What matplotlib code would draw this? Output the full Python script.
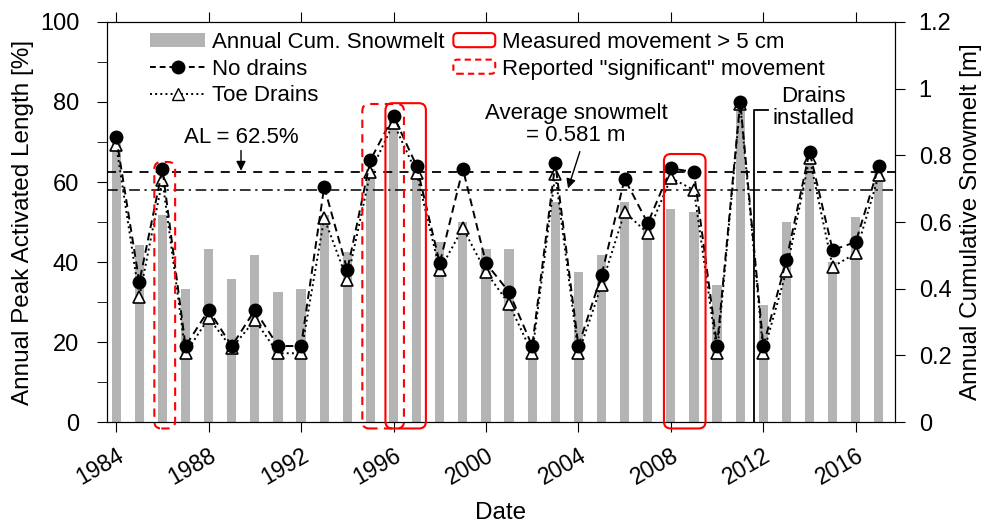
import matplotlib
matplotlib.use("Agg")
import matplotlib.pyplot as plt
import matplotlib.transforms as mtransforms
from matplotlib.patches import FancyBboxPatch, Patch, Rectangle
from matplotlib.lines import Line2D
from matplotlib.legend_handler import HandlerPatch

plt.rcParams['font.family'] = ['Liberation Sans', 'DejaVu Sans']

years = list(range(1984, 2018))
snowmelt = [0.84, 0.53, 0.62, 0.40, 0.52, 0.43, 0.50, 0.39, 0.40, 0.62,
            0.51, 0.76, 0.90, 0.75, 0.54, 0.60, 0.52, 0.52, 0.22, 0.66,
            0.45, 0.50, 0.66, 0.59, 0.64, 0.63, 0.41, 0.96, 0.35, 0.60,
            0.80, 0.48, 0.615, 0.75]
no_drains = [71.3, 35, 63.2, 19, 28, 19, 28, 19, 19, 58.8,
             38, 65.5, 76.5, 64, 39.7, 63.3, 39.7, 32.5, 19, 64.7,
             19, 36.7, 60.8, 49.7, 63.4, 62.5, 19, 80.1, 19, 40.5,
             67.6, 43, 45, 64]
toe_drains = [69.3, 31.3, 60.5, 17.2, 26, 18.5, 25.5, 17.2, 17.2, 51,
              35.5, 62.5, 74.7, 62.2, 38, 48.5, 37.5, 29.5, 17.2, 62,
              17.2, 34.2, 52.5, 47.2, 61, 58, 17.2, 79.5, 17.2, 37.8,
              66, 38.8, 42.2, 61.8]
al_level = 62.5
avg_snowmelt = 58.1
drains_year = 2011.6

# (x0, x1, y0, y1) in year / % units
measured_boxes = [(1995.65, 1997.4, -1.6, 79.7), (2007.7, 2009.5, -1.6, 67.0)]
reported_boxes = [(1985.65, 1986.55, -1.6, 65.0), (1994.65, 1996.45, -1.6, 79.5)]
tick_years = list(range(1984, 2017, 4))

GREY = '#b4b4b4'


def _round_box(legend, orig_handle, xdescent, ydescent, width, height, fontsize):
    w = 0.76 * width
    return FancyBboxPatch((-xdescent + width - w, -ydescent), w, height,
                          boxstyle='round,pad=0,rounding_size=3')


fig = plt.figure(figsize=(9.84, 5.23), dpi=100)
ax = fig.add_axes([0.1087, 0.193, 0.8009, 0.765])
ax2 = ax.twinx()
ax.set_zorder(ax2.get_zorder() + 1)
ax.patch.set_visible(False)

ax2.bar(years, snowmelt, width=0.4, color=GREY, zorder=1)
ax2.set_ylim(0, 1.2)
ax2.set_yticks([0, 0.2, 0.4, 0.6, 0.8, 1.0, 1.2])
ax2.set_yticklabels(['0', '0.2', '0.4', '0.6', '0.8', '1', '1.2'])
ax2.set_ylabel('Annual Cumulative Snowmelt [m]', fontsize=17.5, labelpad=6)
ax2.tick_params(axis='y', direction='out', length=7, labelsize=17, pad=10)

ax.axhline(al_level, color='black', ls=(0, (5, 4)), lw=1.3, zorder=2)
ax.axhline(avg_snowmelt, color='black', ls=(0, (7, 3, 1.5, 3)), lw=1.1, zorder=2)

ax.plot(years, toe_drains, ls=':', color='black', lw=1.4, marker='^',
        markersize=8, markerfacecolor='white', markeredgecolor='black',
        markeredgewidth=1.2, zorder=4)
ax.plot(years, no_drains, ls=(0, (4, 2.5)), color='black', lw=1.4, marker='o',
        markersize=9, markerfacecolor='black', zorder=5)

for x0, x1, y0, y1 in measured_boxes:
    ax.add_patch(FancyBboxPatch((x0, y0), x1 - x0, y1 - y0,
                                boxstyle='round,pad=0,rounding_size=0.3',
                                mutation_aspect=5.8, fill=False,
                                edgecolor='red', lw=1.5, clip_on=False, zorder=6))
for x0, x1, y0, y1 in reported_boxes:
    ax.add_patch(FancyBboxPatch((x0, y0), x1 - x0, y1 - y0,
                                boxstyle='round,pad=0,rounding_size=0.3',
                                mutation_aspect=5.8, fill=False,
                                edgecolor='red', lw=1.5, ls=(0, (4, 3)),
                                clip_on=False, zorder=6))

ax.plot([drains_year, drains_year, drains_year + 0.6], [0, 78, 78],
        color='black', lw=1.3, zorder=3)
ax.text(2014.17, 78.6, 'Drains\ninstalled', ha='center', va='center',
        fontsize=16, linespacing=1.1)

ax.annotate('AL = 62.5%', xy=(1989.4, al_level + 0.3), xytext=(1989.4, 71.2),
            ha='center', va='center', fontsize=16,
            arrowprops=dict(arrowstyle='-|>', color='black', lw=1, shrinkA=0,
                            shrinkB=0, mutation_scale=14))
ax.annotate('Average snowmelt\n= 0.581 m', xy=(2003.55, avg_snowmelt + 0.3),
            xytext=(2003.9, 74.4), ha='center', va='center', fontsize=16,
            linespacing=1.1,
            arrowprops=dict(arrowstyle='-|>', color='black', lw=1,
                            shrinkA=2, shrinkB=0, mutation_scale=14,
                            relpos=(0.53, 0.0)))

ax.set_xlim(1983.6, 2017.7)
ax.set_ylim(0, 100)
ax.set_xticks(tick_years)
ax.set_xticklabels([str(y) for y in tick_years], rotation=30, ha='right',
                   va='top', rotation_mode='anchor', fontsize=16.5)
shift = mtransforms.ScaledTranslation(9 / 100, 0, fig.dpi_scale_trans)
for lbl in ax.get_xticklabels():
    lbl.set_transform(lbl.get_transform() + shift)
ax.set_yticks(range(0, 101, 20))
ax.set_yticks(range(10, 100, 20), minor=True)
ax.tick_params(axis='y', direction='out', length=7, labelsize=17, pad=13)
ax.tick_params(axis='y', which='minor', direction='out', length=7)
ax.tick_params(axis='x', direction='out', length=7, top=True, pad=9)
ax.set_ylabel('Annual Peak Activated Length [%]', fontsize=17.5, labelpad=4)
ax.set_xlabel('Date', fontsize=17.5, labelpad=9)

handles = [
    Patch(facecolor=GREY, edgecolor='none', label='Annual Cum. Snowmelt'),
    Line2D([], [], ls=(0, (3, 2)), color='black', lw=1.4, marker='o',
           markersize=9, label='No drains'),
    Line2D([], [], ls=':', color='black', lw=1.4, marker='^', markersize=8,
           markerfacecolor='white', markeredgecolor='black', label='Toe Drains'),
    Rectangle((0, 0), 1, 1, facecolor='none', edgecolor='red', lw=1.5,
              label='Measured movement > 5 cm'),
    Rectangle((0, 0), 1, 1, facecolor='none', edgecolor='red', lw=1.5,
              ls=(0, (3, 2)), label='Reported "significant" movement'),
]
ax.legend(handles=handles, ncol=2, loc='upper left',
          bbox_to_anchor=(0.055, 0.975), frameon=False, fontsize=16,
          handlelength=2.48, handleheight=0.6, columnspacing=-0.2,
          labelspacing=0.25, borderaxespad=0, borderpad=0, handletextpad=0.3,
          handler_map={Rectangle: HandlerPatch(patch_func=_round_box)})

fig.savefig('out.png', dpi=100)
